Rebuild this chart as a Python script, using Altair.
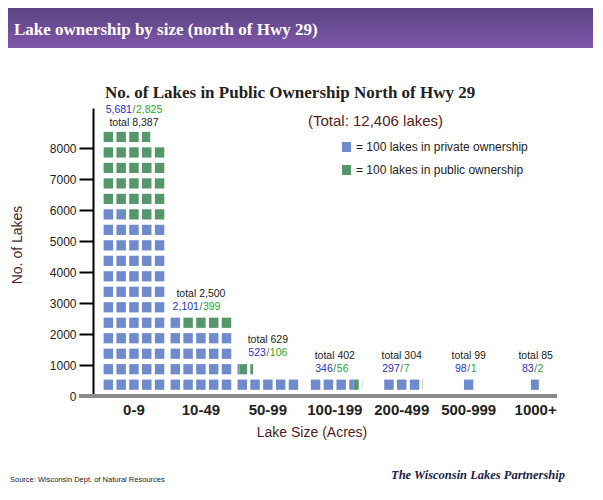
import math
import altair as alt
import pandas as pd

# ---------------- data ----------------
categories = ["0-9", "10-49", "50-99", "100-199", "200-499", "500-999", "1000+"]
private = [5681, 2101, 523, 346, 297, 98, 83]
public = [2825, 399, 106, 56, 7, 1, 2]
totals = [8387, 2500, 629, 402, 304, 99, 85]
y_ticks = [0, 1000, 2000, 3000, 4000, 5000, 6000, 7000, 8000]

LAKES_PER_SQUARE = 100
SQUARES_PER_ROW = 5
ROW_LAKES = LAKES_PER_SQUARE * SQUARES_PER_ROW

# ---------------- layout / style ----------------
W, H = 464, 288
Y_MAX = 9300
X_MAX = 36.25
UNITS_PER_PX = Y_MAX / H
FIRST_CENTER, GROUP_PITCH = 3.2, 5.23
SQ_W = 0.74
ROW_BASE, SQ_H = 200, 330
BLUE, GREEN = "#6f8bcd", "#55976a"
SANS = "Liberation Sans"
MAROON = "#4e1e1e"
LBL = 10.5

rects = []
labels = []
for g, cat in enumerate(categories):
    c = FIRST_CENTER + g * GROUP_PITCH
    p = private[g] / LAKES_PER_SQUARE
    t = totals[g] / LAKES_PER_SQUARE
    n = math.ceil(t)
    ncols = min(SQUARES_PER_ROW, max(1, round(t)))
    left0 = c - ncols / 2 + (1 - SQ_W) / 2
    for i in range(n):
        row, col = divmod(i, SQUARES_PER_ROW)
        xs = left0 + col
        bf = min(max(p - i, 0), 1)
        tf = min(max(t - i, 0), 1)
        y0 = ROW_BASE + ROW_LAKES * row
        if bf > 0:
            rects.append(dict(cat=cat, own="private", x0=xs, x1=xs + SQ_W * bf, y0=y0, y1=y0 + SQ_H))
        if tf > bf:
            rects.append(dict(cat=cat, own="public", x0=xs + SQ_W * bf, x1=xs + SQ_W * tf, y0=y0, y1=y0 + SQ_H))
    rows = math.ceil(n / SQUARES_PER_ROW)
    top = ROW_BASE + ROW_LAKES * (rows - 1) + SQ_H
    if g == 0:
        y_nums, y_tot = top + 22 * UNITS_PER_PX, top + 9 * UNITS_PER_PX
    else:
        y_nums, y_tot = top + 11 * UNITS_PER_PX, top + 24 * UNITS_PER_PX
    labels.append(dict(cat=cat, c=c, priv=f"{private[g]:,}", pub=f"{public[g]:,}",
                       tot=f"total {totals[g]:,}", y_nums=y_nums, y_tot=y_tot))

sq = pd.DataFrame(rects)
lab = pd.DataFrame(labels)
one = pd.DataFrame({"a": [0]})

xscale = alt.Scale(domain=[0, X_MAX], nice=False, zero=False)
yscale = alt.Scale(domain=[0, Y_MAX], nice=False)
yaxis = alt.Axis(
    values=y_ticks, format="d", labelOverlap=False, title=None, grid=False, tickCount=10,
    labelFontSize=12, labelColor="#222", labelFont=SANS, tickColor="black",
    tickWidth=2, tickSize=14, domainColor="black", domainWidth=2, labelPadding=3)


def Y(field):
    return alt.Y(field, scale=yscale, axis=yaxis)


def X(field):
    return alt.X(field, scale=xscale, axis=None)


squares = alt.Chart(sq).mark_rect().encode(
    x=X("x0:Q"), x2="x1:Q", y=Y("y0:Q"), y2="y1:Q",
    color=alt.Color("own:N", scale=alt.Scale(domain=["private", "public"], range=[BLUE, GREEN]), legend=None),
)

base_lab = alt.Chart(lab)
tot_text = base_lab.mark_text(font=SANS, fontSize=LBL, color="#222", baseline="middle").encode(
    x=X("c:Q"), y=Y("y_tot:Q"), text="tot:N")
priv_text = base_lab.mark_text(font=SANS, fontSize=LBL, color="#1f2fc8", baseline="middle", align="right", dx=-2).encode(
    x=X("c:Q"), y=Y("y_nums:Q"), text="priv:N")
slash_text = base_lab.mark_text(font=SANS, fontSize=LBL, color="#666", baseline="middle", text="/").encode(
    x=X("c:Q"), y=Y("y_nums:Q"))
pub_text = base_lab.mark_text(font=SANS, fontSize=LBL, color="#1faa1f", baseline="middle", align="left", dx=2).encode(
    x=X("c:Q"), y=Y("y_nums:Q"), text="pub:N")
cat_text = base_lab.mark_text(font=SANS, fontSize=15, fontWeight="bold", color="#222", baseline="middle").encode(
    x=X("c:Q"), y=alt.value(302), text="cat:N")

baseline = alt.Chart(one).mark_rule(color="#8a8a8a", strokeWidth=4).encode(
    x=alt.value(-14), x2=alt.value(W), y=alt.value(H))

header_bg = alt.Chart(one).mark_rect(color=alt.Gradient(
    gradient="linear", x1=0, x2=0, y1=0, y2=1,
    stops=[alt.GradientStop(color="#5b4383", offset=0), alt.GradientStop(color="#7e57aa", offset=1)])).encode(
    x=alt.value(-85), x2=alt.value(W + 36), y=alt.value(-100), y2=alt.value(-60))
header_txt = alt.Chart(one).mark_text(text="Lake ownership by size (north of Hwy 29)", font="Liberation Serif",
                                      fontWeight="bold", fontSize=17, color="white", align="left",
                                      baseline="alphabetic").encode(x=alt.value(-79), y=alt.value(-73))

title_txt = alt.Chart(one).mark_text(text="No. of Lakes in Public Ownership North of Hwy 29", font="Liberation Serif",
                                     fontWeight="bold", fontSize=17, color="#222", align="left",
                                     baseline="alphabetic").encode(x=alt.value(12), y=alt.value(-10))
total_txt = alt.Chart(one).mark_text(text="(Total: 12,406 lakes)", font=SANS, fontSize=15,
                                     color="#5a2020", align="left", baseline="middle").encode(
    x=alt.value(215), y=alt.value(13))

leg_blue = alt.Chart(one).mark_rect(color=BLUE).encode(x=alt.value(249), x2=alt.value(258), y=alt.value(34), y2=alt.value(44))
leg_green = alt.Chart(one).mark_rect(color=GREEN).encode(x=alt.value(249), x2=alt.value(258), y=alt.value(57), y2=alt.value(67))
leg_t1 = alt.Chart(one).mark_text(text="= 100 lakes in private ownership", font=SANS, fontSize=12,
                                  color="#222", align="left", baseline="middle").encode(x=alt.value(263), y=alt.value(39))
leg_t2 = alt.Chart(one).mark_text(text="= 100 lakes in public ownership", font=SANS, fontSize=12,
                                  color="#222", align="left", baseline="middle").encode(x=alt.value(263), y=alt.value(62))

ytitle = alt.Chart(one).mark_text(text="No. of Lakes", font=SANS, fontSize=14, color=MAROON,
                                  angle=270, baseline="middle").encode(x=alt.value(-75), y=alt.value(137))
xtitle = alt.Chart(one).mark_text(text="Lake Size (Acres)", font=SANS, fontSize=14, color=MAROON,
                                  baseline="middle").encode(x=alt.value(219), y=alt.value(325))

source_txt = alt.Chart(one).mark_text(text="Source: Wisconsin Dept. of Natural Resources", font=SANS, fontSize=7.5,
                                      color="#222", align="left", baseline="middle").encode(x=alt.value(-83), y=alt.value(372))
logo_txt = alt.Chart(one).mark_text(text="The Wisconsin Lakes Partnership", font="Liberation Serif", fontSize=12.5,
                                    fontWeight="bold", fontStyle="italic", color="#1c1c4a", align="right",
                                    baseline="middle").encode(x=alt.value(472), y=alt.value(367))

chart = alt.layer(
    header_bg, header_txt, title_txt, total_txt, leg_blue, leg_green, leg_t1, leg_t2,
    squares, baseline, tot_text, priv_text, slash_text, pub_text, cat_text,
    ytitle, xtitle, source_txt, logo_txt,
).properties(
    width=W, height=H,
    padding={"left": 85, "top": 100, "right": 36, "bottom": 92},
    autosize=alt.AutoSizeParams(type="none"),
).configure_view(stroke=None)

chart.save("out.html", embed_options={"renderer": "svg", "actions": False})
